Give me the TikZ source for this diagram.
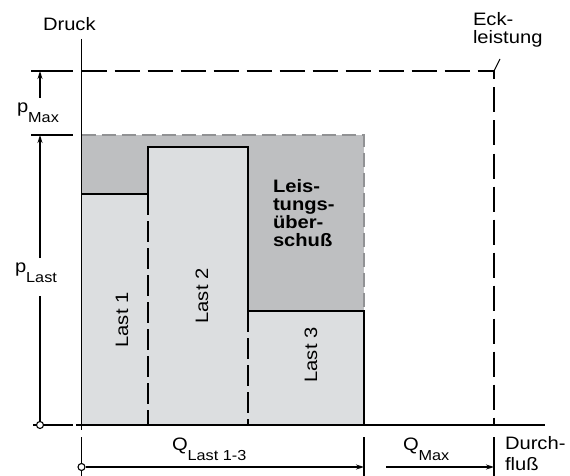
\documentclass[tikz,border=0pt]{standalone}
\usepackage{fontspec}
\setmainfont[FakeStretch=1.12]{Liberation Sans}
\usetikzlibrary{arrows.meta}
\definecolor{lightfill}{RGB}{220,222,224}
\definecolor{darkfill}{RGB}{190,191,193}
\definecolor{dashgray}{RGB}{145,146,148}
\newcommand{\mainsz}{\fontsize{18}{17.7}\selectfont}
\newcommand{\subtxt}[1]{\raisebox{-10pt}{\fontsize{14.5}{14.5}\selectfont #1}}
\begin{document}
\begin{tikzpicture}[x=1pt,y=-1pt,line width=1.4pt,
  lbl/.style={inner sep=0pt,outer sep=0pt,font=\mainsz},
  boldlbl/.style={lbl,font=\mainsz\bfseries,align=left},
  rotlbl/.style={lbl,rotate=90},
  bigdash/.style={dash pattern=on 25pt off 8pt},
  smalldash/.style={dash pattern=on 21pt off 6pt},
  graydash/.style={draw=dashgray,dash pattern=on 14pt off 6pt},
  dimline/.style={line width=1.2pt},
  dimarrow/.style={dimline,-{Stealth[length=8pt,width=5pt]}},
  dot/.style={circle,draw,fill=white,line width=1.1pt,minimum size=7pt,inner sep=0pt}]
\useasboundingbox (0,0) rectangle (570,476);
% fills
\fill[darkfill] (81.5,135) rectangle (364,425);
\fill[lightfill] (81.5,194) rectangle (148,425);
\fill[lightfill] (148,147) rectangle (248,425);
\fill[lightfill] (248,311) rectangle (364,425);
% box outlines
\draw (81.5,194) -- (148,194) -- (148,147) -- (248,147) -- (248,311) -- (364,311) -- (364,425);
\draw[smalldash] (148,194) -- (148,425);
\draw[smalldash] (248,311) -- (248,425);
% gray dashed surplus border
\draw[graydash] (81.5,135) -- (364,135) -- (364,311);
% black dashed corner power
\draw[bigdash] (81.5,71) -- (494,71) -- (494,425);
\draw[line width=1pt] (494,71) -- (500,59);
% axes
\coordinate (ytop) at (81.5,39);
\coordinate (ybot) at (81.5,430);
\coordinate (xleft) at (76,425);
\coordinate (xright) at (545,425);
\draw (ytop) -- (ybot);
\draw (xleft) -- (xright);
% extension lines
\draw (31,71) -- (73,71);
\draw (31,135) -- (73,135);
\draw (33,425) -- (73,425);
\draw (81.5,437) -- (81.5,476);
\draw (364,437) -- (364,476);
\draw (494,437) -- (494,476);
% dimension lines
\coordinate (pmaxS) at (40,98);
\coordinate (pmaxE) at (40,71);
\coordinate (plastS) at (40,258);
\coordinate (plastE) at (40,135);
\coordinate (plastL) at (40,296);
\node[dot] (plastO) at (40,425) {};
\draw[dimarrow] (pmaxS) -- (pmaxE);
\draw[dimarrow] (plastS) -- (plastE);
\draw[dimline] (plastL) -- (plastO);
\node[dot] (qO) at (81.5,467) {};
\coordinate (qlastE) at (364,467);
\coordinate (qmaxS) at (386,467);
\coordinate (qmaxE) at (494,467);
\draw[dimarrow] (qO) -- (qlastE);
\draw[dimarrow] (qmaxS) -- (qmaxE);
% labels
\node[lbl,anchor=base west] (druck) at (43,31) {Druck};
\node[lbl,anchor=base west,align=left,font=\fontsize{18}{18}\selectfont] (eck) at (473,44) {Eck-\\leistung};
\node[lbl,anchor=base west] (pmax) at (17,113) {p\subtxt{Max}};
\node[lbl,anchor=base west] (plast) at (15,272) {p\subtxt{Last}};
\node[lbl,anchor=base west] (qlast) at (172,450) {Q\subtxt{Last 1-3}};
\node[lbl,anchor=base west] (qmax) at (403,450) {Q\subtxt{Max}};
\node[lbl,anchor=base west,align=left,font=\fontsize{18}{21}\selectfont] (durch) at (505,470) {Durch-\\fluß};
\node[boldlbl,anchor=base west] (surplus) at (273,246) {Leis-\\tungs-\\über-\\schuß};
\node[rotlbl] (last1) at (122,320) {Last 1};
\node[rotlbl] (last2) at (202,296) {Last 2};
\node[rotlbl] (last3) at (311,355) {Last 3};
\end{tikzpicture}
\end{document}
